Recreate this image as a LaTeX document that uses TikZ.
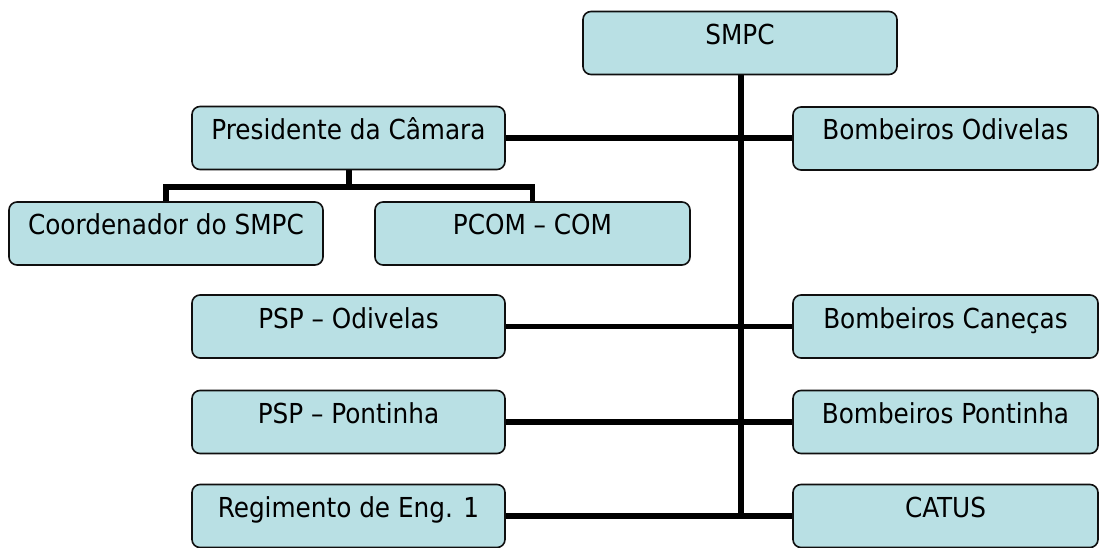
\documentclass[tikz,border=0pt]{standalone}
\usepackage{fontspec}
\setmainfont{DejaVu Sans Condensed}
\definecolor{boxfill}{RGB}{185,224,228}
\definecolor{boxline}{RGB}{15,15,15}
\pgfdeclarelayer{bg}
\pgfsetlayers{bg,main}
\tikzset{
  orgbox/.style={draw=boxline, line width=1.6pt, fill=boxfill, rounded corners=8pt,
    inner sep=0pt, text height=33pt, text depth=30pt, font=\fontsize{27.5}{30}\selectfont},
  wide/.style={minimum width=313pt},
  rwide/.style={minimum width=305pt},
  link/.style={line width=5.5pt, black}
}
\begin{document}
\begin{tikzpicture}[x=1pt,y=-1pt]
\useasboundingbox (0,0) rectangle (1101,548);
\node[orgbox, minimum width=314pt] (smpc) at (740,43) {SMPC};
\node[orgbox, wide] (pres) at (348.5,138) {Presidente da Câmara};
\node[orgbox, rwide] (bod) at (945.5,138.5) {Bombeiros Odivelas};
\node[orgbox, minimum width=314pt] (coord) at (166,233.5) {Coordenador do SMPC};
\node[orgbox, minimum width=315pt] (pcom) at (532.5,233.5) {PCOM – COM};
\node[orgbox, wide] (pspo) at (348.5,326.5) {PSP – Odivelas};
\node[orgbox, rwide] (bcan) at (945.5,326.5) {Bombeiros Caneças};
\node[orgbox, wide] (pspp) at (348.5,422) {PSP – Pontinha};
\node[orgbox, rwide] (bpon) at (945.5,422) {Bombeiros Pontinha};
\node[orgbox, wide] (reg) at (348.5,516) {Regimento de Eng. 1};
\node[orgbox, rwide] (catus) at (945.5,516) {CATUS};
\coordinate (vbot) at (741,519);
\coordinate (bus) at (349,187);
\coordinate (busl) at (166,187);
\coordinate (busr) at (532.5,187);
\begin{pgfonlayer}{bg}
\draw[link] (smpc.south -| vbot) -- (vbot);
\draw[link] (pres.east |- 0,138) -- (bod.west |- 0,138);
\draw[link] (pspo.east) -- (bcan.west);
\draw[link] (pspp.east) -- (bpon.west);
\draw[link] (reg.east) -- (catus.west);
\draw[link] (pres.south -| bus) -- (bus);
\draw[link, line cap=rect] (coord.north) -- (busl) -- (busr) -- (pcom.north);
\end{pgfonlayer}
\end{tikzpicture}
\end{document}
